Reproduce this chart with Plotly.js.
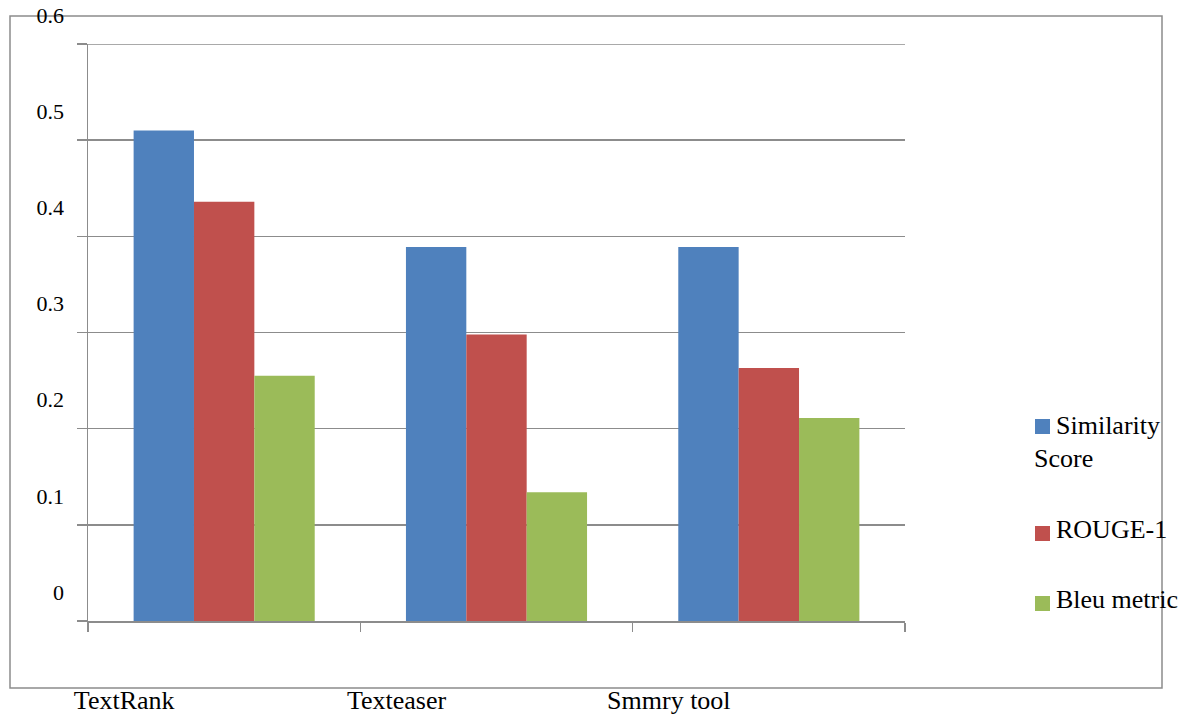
<!DOCTYPE html>
<html>
<head>
<meta charset="utf-8">
<script src="https://cdn.plot.ly/plotly-3.0.1.min.js"></script>
<style>
  html, body { margin: 0; padding: 0; background: #fff; }
  #chart { width: 1194px; height: 714px; }
</style>
</head>
<body>
<div id="chart"></div>
<script>
// Summarisation tools compared on three evaluation metrics
const tools = ['TextRank', 'Texteaser', 'Smmry tool'];
const seriesNames = ['Similarity Score', 'ROUGE-1', 'Bleu metric'];
const similarity = [0.51, 0.389, 0.389];
const rouge1 = [0.436, 0.298, 0.263];
const bleu = [0.255, 0.134, 0.211];
const yTicks = [0, 0.1, 0.2, 0.3, 0.4, 0.5, 0.6];
const yTickText = ['0', '0.1', '0.2', '0.3', '0.4', '0.5', '0.6'];

const colors = ['#4F81BD', '#C0504D', '#9BBB59'];
const seriesValues = [similarity, rouge1, bleu];
const FONT = 'Liberation Serif';
const GRID = '#8c8c8c';

// Plot area in pixels (used to place the hand-drawn legend and frame)
const W = 1194, H = 714;
const M = { l: 88, r: 289, t: 44, b: 93 };
const plotW = W - M.l - M.r, plotH = H - M.t - M.b;
const px = x => (x - M.l) / plotW;
const py = y => (H - M.b - y) / plotH;

const traces = seriesValues.map((vals, i) => ({
  type: 'bar',
  name: seriesNames[i],
  x: tools,
  y: vals,
  marker: { color: colors[i], line: { width: 0 } },
  showlegend: false,
  hoverinfo: 'x+y+name'
}));

const yTop = yTicks[yTicks.length - 1];

// Legend: square swatch plus label, first name wraps under its swatch
const legendLines = [['Similarity', 'Score'], ['ROUGE-1'], ['Bleu metric']];
const legendRows = [426, 533, 603];
const legendText = [425, 529, 599];
const shapes = [
  // outer chart frame
  { type: 'rect', xref: 'paper', yref: 'paper',
    x0: px(10), x1: px(1162), y0: py(688), y1: py(16),
    line: { color: GRID, width: 1.5 }, fillcolor: 'rgba(0,0,0,0)', layer: 'below' },
  // top gridline, which sits on the edge of the plotting area
  { type: 'line', xref: 'paper', yref: 'y',
    x0: 0, x1: 1, y0: yTop, y1: yTop,
    line: { color: GRID, width: 1.5 }, layer: 'below' }
];
const annotations = [];
legendLines.forEach((lines, i) => {
  const cy = legendRows[i];
  shapes.push({ type: 'rect', xref: 'paper', yref: 'paper',
    x0: px(1035), x1: px(1050), y0: py(cy + 8), y1: py(cy - 7),
    line: { width: 0 }, fillcolor: colors[i] });
  annotations.push({ xref: 'paper', yref: 'paper', x: px(1054), y: py(legendText[i]),
    xanchor: 'left', yanchor: 'middle', showarrow: false, text: lines[0],
    font: { family: FONT, size: 26, color: '#000' } });
  if (lines[1]) {
    annotations.push({ xref: 'paper', yref: 'paper', x: px(1032), y: py(legendText[i] + 34),
      xanchor: 'left', yanchor: 'middle', showarrow: false, text: lines[1],
      font: { family: FONT, size: 26, color: '#000' } });
  }
});

const layout = {
  width: W, height: H,
  margin: M,
  paper_bgcolor: '#fff', plot_bgcolor: '#fff',
  font: { family: FONT, size: 22, color: '#000' },
  barmode: 'group',
  bargap: 0.335,
  bargroupgap: 0,
  showlegend: false,
  xaxis: {
    type: 'category',
    showgrid: false,
    showline: true, linecolor: GRID, linewidth: 1.5,
    ticks: 'outside', ticklen: 9, tickcolor: GRID, tickwidth: 1.5,
    tickson: 'boundaries',
    ticklabelshift: -100,
    ticklabelstandoff: 55,
    tickfont: { family: FONT, size: 26, color: '#000' },
    zeroline: false
  },
  yaxis: {
    range: [0, yTop],
    tickmode: 'array', tickvals: yTicks, ticktext: yTickText,
    showgrid: true, gridcolor: GRID, gridwidth: 1.5,
    showline: true, linecolor: GRID, linewidth: 1.5,
    ticks: 'outside', ticklen: 10, tickcolor: GRID, tickwidth: 1.5,
    ticklabelshift: -29,
    ticklabelstandoff: 8,
    tickfont: { family: FONT, size: 22, color: '#000' },
    zeroline: false
  },
  shapes: shapes,
  annotations: annotations
};

Plotly.newPlot('chart', traces, layout, { displayModeBar: false, staticPlot: true });
</script>
</body>
</html>
